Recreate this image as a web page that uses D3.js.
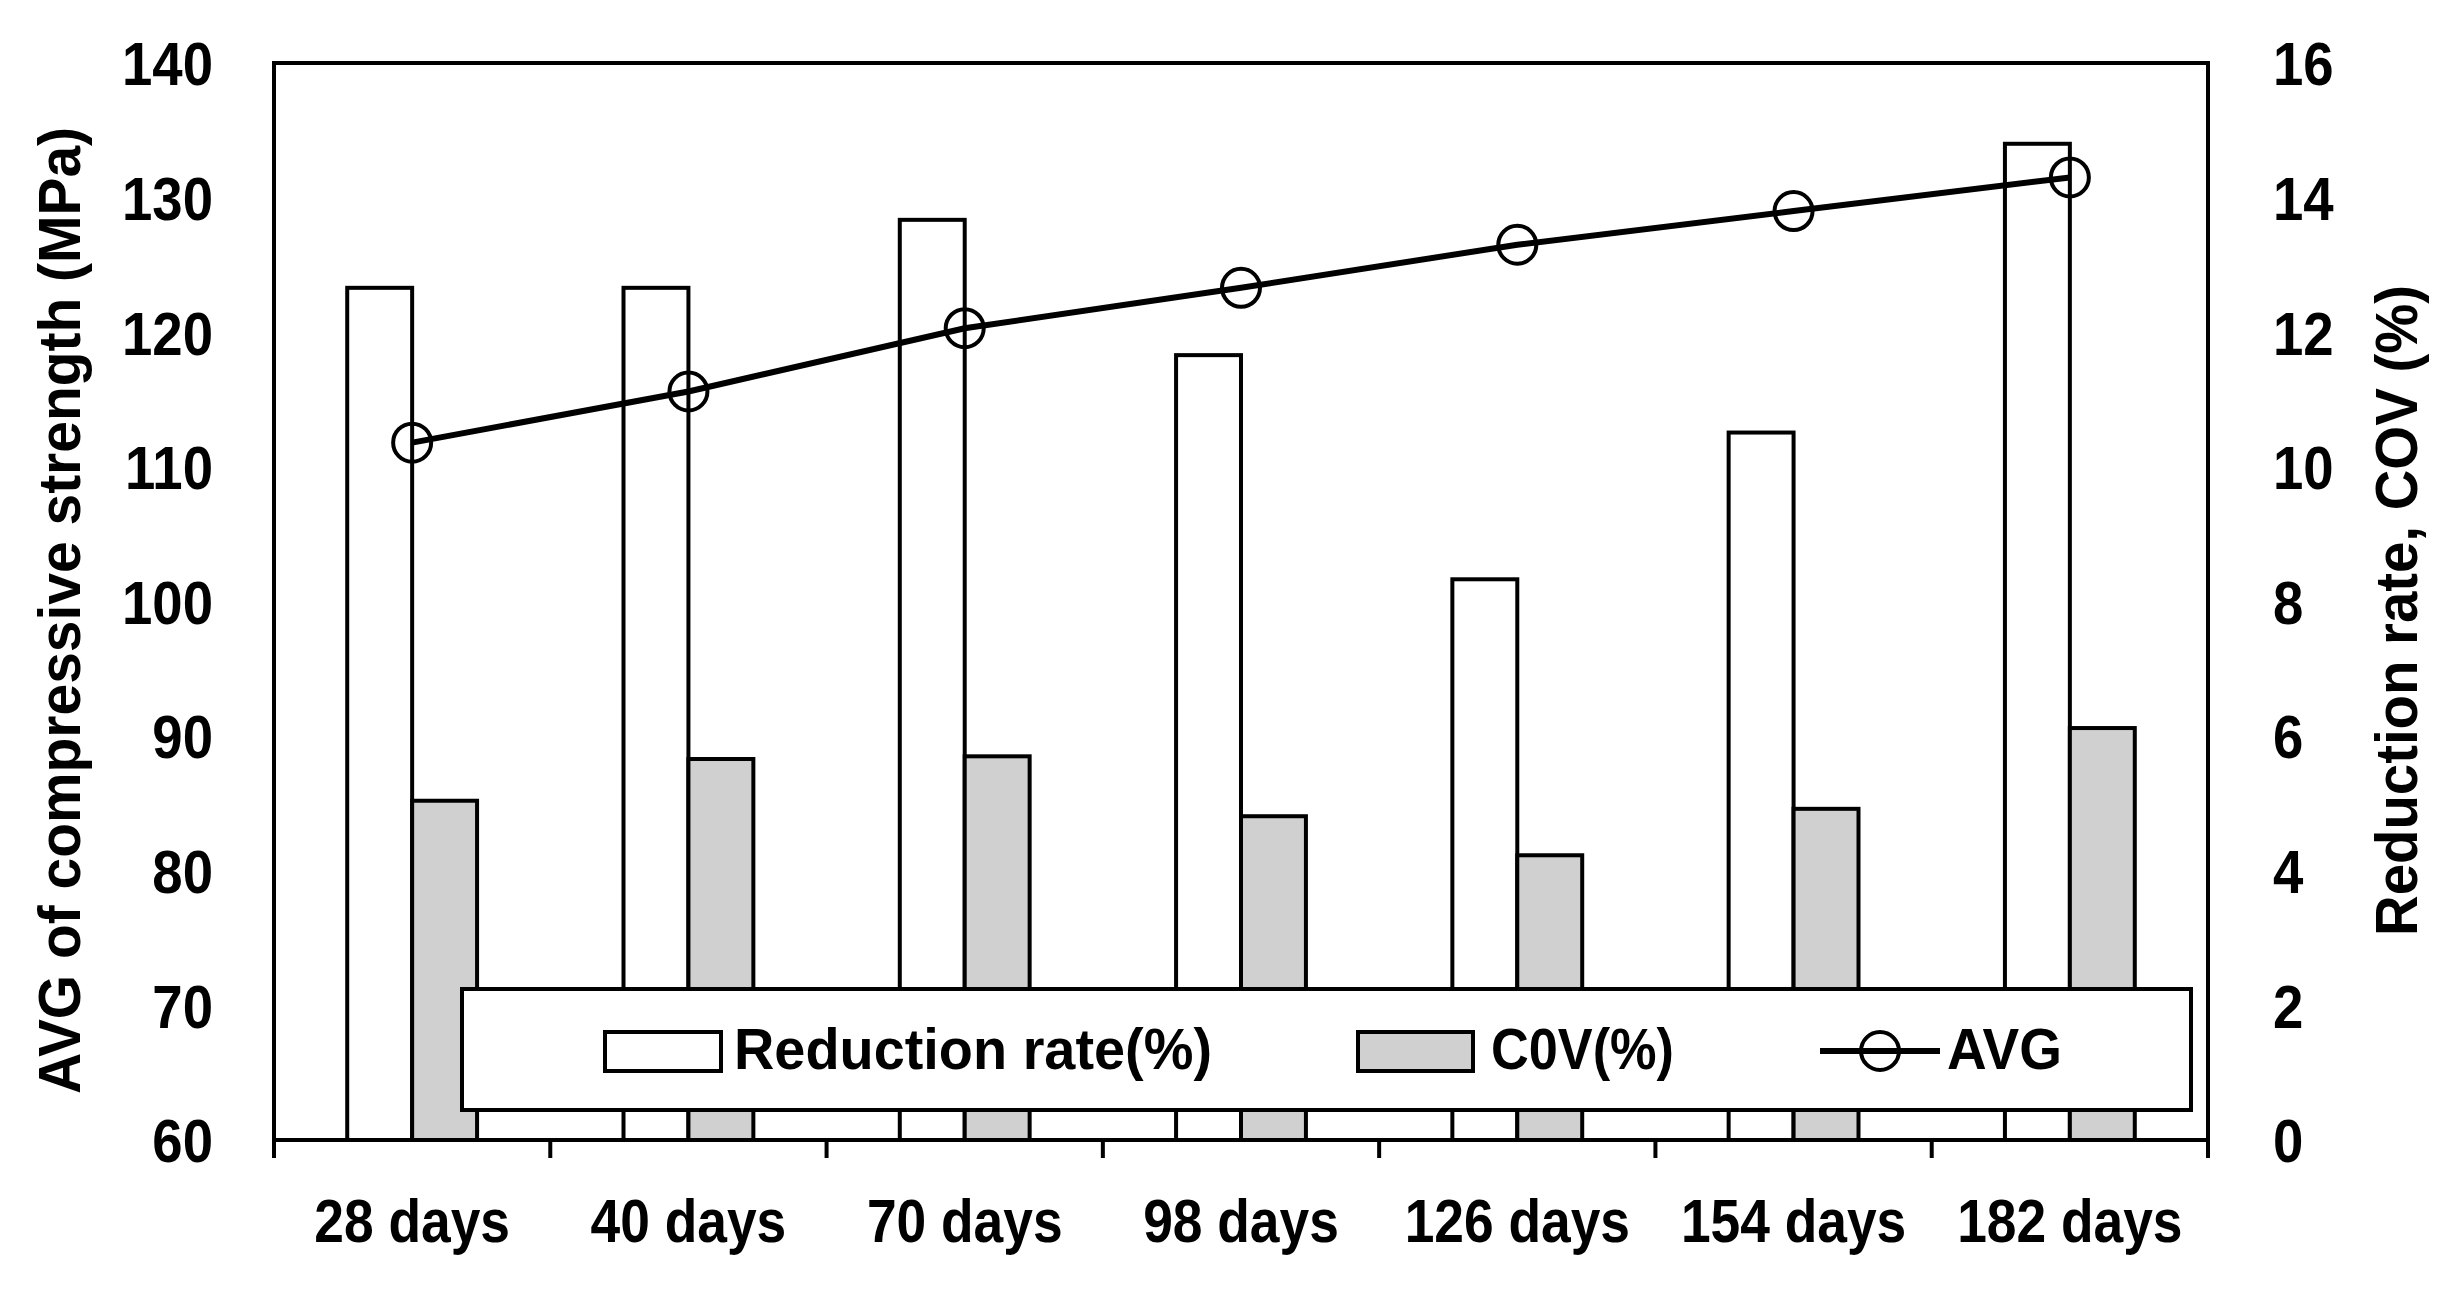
<!DOCTYPE html>
<html>
<head>
<meta charset="utf-8">
<script src="https://cdn.jsdelivr.net/npm/d3@7"></script>
<style>
  body { margin: 0; background: #fff; }
  svg text { font-family: 'Liberation Sans Narrow', 'Liberation Sans', Arial, sans-serif; fill: #000; }
</style>
</head>
<body>
<div id="chart"></div>
<script>
// data
const categories = ['28 days', '40 days', '70 days', '98 days', '126 days', '154 days', '182 days'];
const reductionRate = [12.66, 12.66, 13.67, 11.66, 8.33, 10.51, 14.80];
const covValues = [5.04, 5.66, 5.70, 4.81, 4.23, 4.92, 6.12];
const avgStrength = [111.8, 115.6, 120.3, 123.3, 126.5, 129.0, 131.5];
const leftTicks = [60, 70, 80, 90, 100, 110, 120, 130, 140];
const rightTicks = [0, 2, 4, 6, 8, 10, 12, 14, 16];
const legendLabels = ['Reduction rate(%)', 'C0V(%)', 'AVG'];

const width = 2462, height = 1301;
const margin = { left: 274, right: 254, top: 63, bottom: 161 };
const plotW = width - margin.left - margin.right;
const plotH = height - margin.top - margin.bottom;
const greyFill = '#d0d0d0';

// the reference font is narrower than Liberation Sans, squeeze text to fit
function condense(sel, factor) {
    sel.each(function() {
        const len = this.getComputedTextLength();
        d3.select(this)
            .attr('textLength', len * factor)
            .attr('lengthAdjust', 'spacingAndGlyphs');
    });
}

const svg = d3.select('#chart').append('svg')
    .attr('width', width)
    .attr('height', height);

const g = svg.append('g')
    .attr('transform', `translate(${margin.left},${margin.top})`);

const x = d3.scaleBand()
    .domain(categories)
    .range([0, plotW])
    .padding(0);

const yLeft = d3.scaleLinear().domain([60, 140]).range([plotH, 0]);
const yRight = d3.scaleLinear().domain([0, 16]).range([plotH, 0]);

const barW = x.bandwidth() * 0.235;
const center = d => x(d) + x.bandwidth() / 2;

// bars: reduction rate (white) and COV (grey), on the right axis
g.selectAll('.bar-rr')
    .data(categories)
    .enter()
    .append('rect')
    .attr('x', d => center(d) - barW)
    .attr('y', (d, i) => yRight(reductionRate[i]))
    .attr('width', barW)
    .attr('height', (d, i) => plotH - yRight(reductionRate[i]))
    .attr('fill', '#fff')
    .attr('stroke', '#000')
    .attr('stroke-width', 4);

g.selectAll('.bar-cov')
    .data(categories)
    .enter()
    .append('rect')
    .attr('x', d => center(d))
    .attr('y', (d, i) => yRight(covValues[i]))
    .attr('width', barW)
    .attr('height', (d, i) => plotH - yRight(covValues[i]))
    .attr('fill', greyFill)
    .attr('stroke', '#000')
    .attr('stroke-width', 4);

// AVG line on the left axis
const line = d3.line()
    .x((d, i) => center(categories[i]))
    .y(d => yLeft(d));

g.append('path')
    .datum(avgStrength)
    .attr('fill', 'none')
    .attr('stroke', '#000')
    .attr('stroke-width', 6)
    .attr('d', line);

g.selectAll('.marker')
    .data(avgStrength)
    .enter()
    .append('circle')
    .attr('cx', (d, i) => center(categories[i]))
    .attr('cy', d => yLeft(d))
    .attr('r', 19)
    .attr('fill', 'none')
    .attr('stroke', '#000')
    .attr('stroke-width', 4);

// plot border
g.append('rect')
    .attr('x', 0).attr('y', 0)
    .attr('width', plotW).attr('height', plotH)
    .attr('fill', 'none')
    .attr('stroke', '#000')
    .attr('stroke-width', 4);

// x axis: ticks at category boundaries
const bounds = categories.map(c => x(c)).concat([plotW]);
g.selectAll('.xtick')
    .data(bounds)
    .enter()
    .append('line')
    .attr('x1', d => d).attr('x2', d => d)
    .attr('y1', plotH).attr('y2', plotH + 18)
    .attr('stroke', '#000')
    .attr('stroke-width', 4);

g.selectAll('.xlabel')
    .data(categories)
    .enter()
    .append('text')
    .attr('x', d => center(d))
    .attr('y', plotH + 102)
    .attr('text-anchor', 'middle')
    .style('font-size', '62px')
    .style('font-weight', 'bold')
    .text(d => d)
    .call(condense, 0.86);

// left axis labels
g.selectAll('.ylabel-left')
    .data(leftTicks)
    .enter()
    .append('text')
    .attr('x', -61)
    .attr('y', d => yLeft(d))
    .attr('dy', '0.36em')
    .attr('text-anchor', 'end')
    .style('font-size', '62px')
    .style('font-weight', 'bold')
    .text(d => d)
    .call(condense, 0.88);

// right axis labels
g.selectAll('.ylabel-right')
    .data(rightTicks)
    .enter()
    .append('text')
    .attr('x', plotW + 65)
    .attr('y', d => yRight(d))
    .attr('dy', '0.36em')
    .attr('text-anchor', 'start')
    .style('font-size', '62px')
    .style('font-weight', 'bold')
    .text(d => d)
    .call(condense, 0.88);

// axis titles
svg.append('text')
    .attr('transform', `translate(80, ${margin.top + plotH / 2 + 9}) rotate(-90)`)
    .attr('text-anchor', 'middle')
    .attr('textLength', 967)
    .attr('lengthAdjust', 'spacingAndGlyphs')
    .style('font-size', '60px')
    .style('font-weight', 'bold')
    .text('AVG of compressive strength (MPa)');

svg.append('text')
    .attr('transform', `translate(2417, ${margin.top + plotH / 2 + 9}) rotate(-90)`)
    .attr('text-anchor', 'middle')
    .attr('textLength', 651)
    .attr('lengthAdjust', 'spacingAndGlyphs')
    .style('font-size', '60px')
    .style('font-weight', 'bold')
    .text('Reduction rate, COV (%)');

// legend
const legend = svg.append('g');
legend.append('rect')
    .attr('x', 462).attr('y', 989)
    .attr('width', 1729).attr('height', 121)
    .attr('fill', '#fff')
    .attr('stroke', '#000')
    .attr('stroke-width', 4);

legend.append('rect')
    .attr('x', 605).attr('y', 1032)
    .attr('width', 116).attr('height', 39)
    .attr('fill', '#fff')
    .attr('stroke', '#000')
    .attr('stroke-width', 4);

legend.append('rect')
    .attr('x', 1358).attr('y', 1032)
    .attr('width', 115).attr('height', 39)
    .attr('fill', greyFill)
    .attr('stroke', '#000')
    .attr('stroke-width', 4);

legend.append('line')
    .attr('x1', 1820).attr('x2', 1940)
    .attr('y1', 1051).attr('y2', 1051)
    .attr('stroke', '#000')
    .attr('stroke-width', 6);

legend.append('circle')
    .attr('cx', 1880).attr('cy', 1051).attr('r', 19)
    .attr('fill', 'none')
    .attr('stroke', '#000')
    .attr('stroke-width', 4);

const legendText = [
    { x: 734, len: 478 },
    { x: 1491, len: 183 },
    { x: 1947, len: 115 }
];
legendLabels.forEach((label, i) => {
    legend.append('text')
        .attr('x', legendText[i].x)
        .attr('y', 1069)
        .attr('textLength', legendText[i].len)
        .attr('lengthAdjust', 'spacingAndGlyphs')
        .style('font-size', '58px')
        .style('font-weight', 'bold')
        .text(label);
});
</script>
</body>
</html>
